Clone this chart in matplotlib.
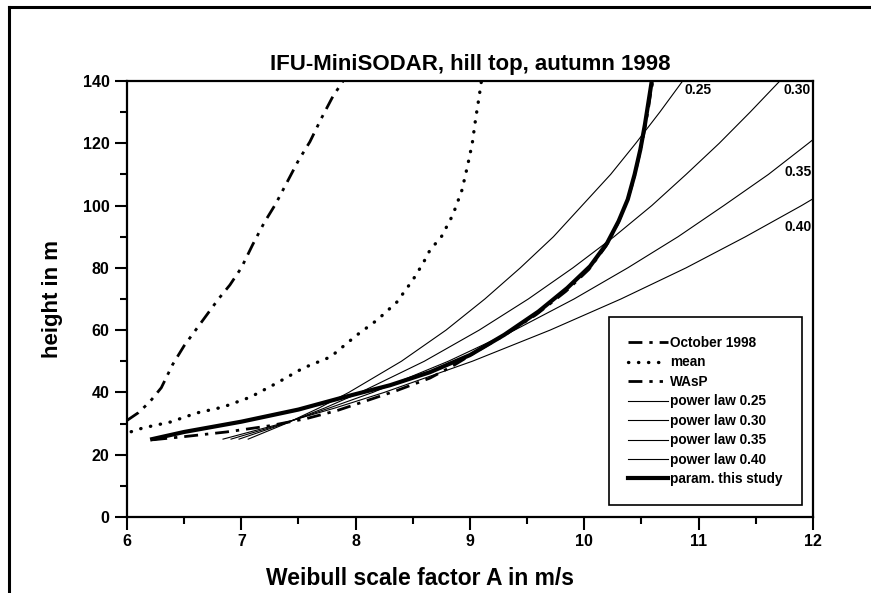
import matplotlib.pyplot as plt
from matplotlib.lines import Line2D

plt.rcParams['font.family'] = ['Liberation Sans', 'DejaVu Sans']
plt.rcParams['font.weight'] = 'bold'

# measured profiles (Weibull A in m/s, height in m)
oct_A = [6.23, 6.50, 6.87, 7.10, 7.25, 7.57, 7.84, 8.15, 8.36, 8.65, 8.85, 9.06,
         9.30, 9.58, 9.84, 10.04, 10.19, 10.29, 10.37, 10.43, 10.48, 10.52, 10.56, 10.58, 10.60]
oct_h = [24.8, 25.8, 27.3, 28.5, 29.3, 31.6, 34.2, 38.0, 40.6, 44.6, 48.5, 53.2,
         58.3, 65.0, 72.5, 79.5, 87.0, 94.0, 101.0, 108.0, 116.0, 123.0, 131.0, 136.0, 140.0]

mean_A = [5.95, 6.03, 6.14, 6.38, 6.61, 6.84, 7.08, 7.31, 7.54, 7.78, 8.01, 8.19, 8.36,
          8.50, 8.59, 8.65, 8.75, 8.85, 8.93, 8.98, 9.02, 9.05, 9.08, 9.10]
mean_h = [27.0, 27.3, 28.6, 30.5, 33.4, 35.3, 38.5, 43.0, 47.8, 51.4, 58.4, 63.3, 69.0,
          76.1, 81.5, 85.7, 90.0, 97.0, 105.0, 113.0, 120.0, 128.0, 135.0, 140.0]

wasp_A = [6.00, 6.10, 6.20, 6.30, 6.40, 6.50, 6.60, 6.70, 6.80, 6.90, 7.00, 7.10, 7.20,
          7.30, 7.40, 7.50, 7.60, 7.70, 7.80, 7.89]
wasp_h = [31.0, 33.5, 37.0, 41.5, 49.0, 55.0, 60.0, 65.0, 70.0, 74.5, 80.0, 87.5, 94.5,
          100.5, 107.5, 114.5, 120.5, 128.0, 135.0, 140.0]

pl_h = [25, 30, 35, 40, 50, 60, 70, 80, 90, 100, 110, 120, 130, 140]
pl25_A = [7.06, 7.39, 7.68, 7.94, 8.40, 8.79, 9.13, 9.44, 9.73, 9.98, 10.23, 10.45, 10.66, 10.86]
pl30_A = [6.98, 7.38, 7.73, 8.04, 8.60, 9.08, 9.51, 9.90, 10.26, 10.59, 10.89, 11.18, 11.45, 11.71]
pl35_A = [6.91, 7.37, 7.77, 8.15, 8.81, 9.39, 9.91, 10.38, 10.82, 11.22, 11.61, 11.96, 12.30, 12.62]
pl40_A = [6.84, 7.35, 7.82, 8.25, 9.02, 9.70, 10.32, 10.89, 11.41, 11.90, 12.36, 12.79, 13.19, 13.57]

param_A = [6.22, 6.50, 7.00, 7.50, 7.90, 8.30, 8.65, 9.00, 9.30, 9.60, 9.85, 10.05,
           10.20, 10.30, 10.38, 10.44, 10.49, 10.53, 10.56, 10.59]
param_h = [25.0, 27.3, 30.6, 34.5, 38.5, 42.3, 46.5, 52.0, 58.5, 66.0, 73.5, 80.5,
           88.0, 95.0, 102.0, 110.0, 118.0, 126.0, 133.0, 140.0]

fig = plt.figure(figsize=(8.71, 5.93), dpi=100)
ax = fig.add_axes([0.1458, 0.1282, 0.7876, 0.7352])

ax.plot(oct_A, oct_h, color='black', lw=2.0, dashes=(5, 2.5, 1.2, 2.5), label='October 1998')
ax.plot(mean_A, mean_h, color='black', lw=2.4, linestyle=(0, (0.1, 2.9)),
        dash_capstyle='round', label='mean')
ax.plot(wasp_A, wasp_h, color='black', lw=2.0, dashes=(5, 2.5, 1.2, 2.5, 1.2, 2.5), label='WAsP')
ax.plot(pl25_A, pl_h, color='black', lw=0.8, label='power law 0.25')
ax.plot(pl30_A, pl_h, color='black', lw=0.8, label='power law 0.30')
ax.plot(pl35_A, pl_h, color='black', lw=0.8, label='power law 0.35')
ax.plot(pl40_A, pl_h, color='black', lw=0.8, label='power law 0.40')
ax.plot(param_A, param_h, color='black', lw=3.0, label='param. this study')

ax.text(10.88, 137.1, '0.25', fontsize=10, fontweight='bold', va='center')
ax.text(11.74, 137.1, '0.30', fontsize=10, fontweight='bold', va='center')
ax.text(11.755, 110.8, '0.35', fontsize=10, fontweight='bold', va='center')
ax.text(11.755, 93.1, '0.40', fontsize=10, fontweight='bold', va='center')

ax.set_xlim(6, 12)
ax.set_ylim(0, 140)
ax.set_xticks([6, 7, 8, 9, 10, 11, 12])
ax.set_xticks([6.5, 7.5, 8.5, 9.5, 10.5, 11.5], minor=True)
ax.set_yticks(range(0, 141, 20))
ax.set_yticks(range(10, 140, 20), minor=True)
ax.tick_params(which='major', direction='out', length=9, width=1.5, labelsize=11.5)
ax.tick_params(which='minor', direction='out', length=5, width=1.5)
for side in ['left', 'bottom', 'top', 'right']:
    ax.spines[side].set_linewidth(1.6)

ax.set_xlabel('Weibull scale factor A in m/s', fontsize=16.5, fontweight='bold', labelpad=11)
ax.xaxis.set_label_coords(0.427, -0.115)
ax.set_ylabel('height in m', fontsize=16, fontweight='bold', labelpad=14)
ax.set_title('IFU-MiniSODAR, hill top, autumn 1998', fontsize=16, fontweight='bold', pad=8)

leg = ax.legend(loc='upper right', bbox_to_anchor=(0.984, 0.4587), fontsize=9.8,
                frameon=True, fancybox=False, framealpha=1, edgecolor='black',
                borderpad=1.4, labelspacing=0.40, handlelength=2.95, handletextpad=0.15,
                borderaxespad=0)
leg.get_frame().set_linewidth(1.2)
for t in leg.get_texts():
    t.set_fontweight('bold')

# outer frame of the original figure
fig.add_artist(Line2D([0.0103, 0.0103], [0, 0.9882], color='black', lw=2.2))
fig.add_artist(Line2D([0.0103, 1], [0.9882, 0.9882], color='black', lw=2.2))

fig.savefig('out.png', dpi=100)
